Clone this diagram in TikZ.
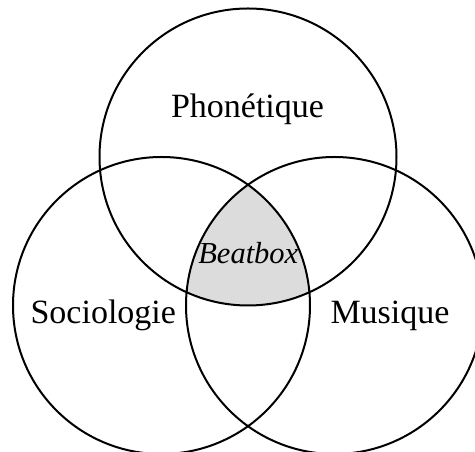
\documentclass[tikz,border=0pt]{standalone}
\usepackage{fontspec}
\setmainfont{Liberation Serif}
\usepackage{tikz}
\definecolor{vnshade}{RGB}{220,220,220}
\tikzset{
  vncircle/.style={draw=black, line width=2pt},
  vnlabel/.style={anchor=base, inner sep=0pt, font=\fontsize{34}{40}\selectfont},
  vncore/.style={anchor=base, inner sep=0pt, font=\fontsize{30.5}{36}\selectfont\itshape}
}
\def\vnrad{148.5}

\begin{document}
\begin{tikzpicture}[x=1pt,y=1pt]
  \useasboundingbox (0,0) rectangle (475,452);
  \clip (0,0) rectangle (475,452);
  \coordinate (cP) at (248,295);
  \coordinate (cS) at (161.5,146.5);
  \coordinate (cM) at (334.5,146.5);
  % common part
  \begin{scope}
    \clip (cP) circle (\vnrad);
    \clip (cS) circle (\vnrad);
    \fill[vnshade] (cM) circle (\vnrad);
  \end{scope}
  \draw[vncircle] (cP) circle (\vnrad);
  \draw[vncircle] (cS) circle (\vnrad);
  \draw[vncircle] (cM) circle (\vnrad);
  \node[vnlabel] (lP) at (247.5,334) {Phonétique};
  \node[vnlabel] (lS) at (103.3,128.7) {Sociologie};
  \node[vnlabel] (lM) at (390,128.7) {Musique};
  \node[vncore] (lB) at (248.3,188) {Beatbox};
\end{tikzpicture}
\end{document}
